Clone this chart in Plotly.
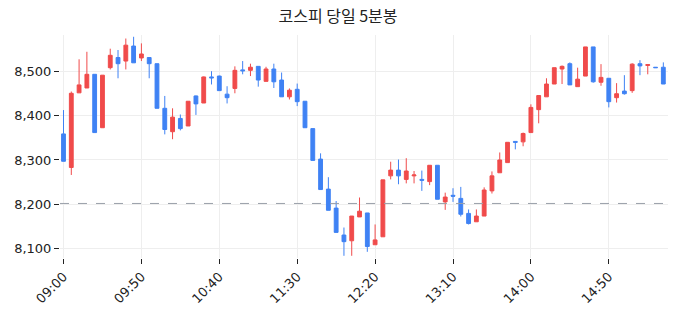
import plotly.graph_objects as go

times = [f"{9 + (i*5)//60:02d}:{(i*5)%60:02d}" for i in range(78)]

opens = [8359, 8283, 8452, 8463, 8494, 8373, 8509, 8532, 8524, 8558,
         8531, 8532, 8518, 8417, 8364, 8394, 8377, 8445, 8429, 8488,
         8490, 8449, 8462, 8504, 8503, 8512, 8478, 8506, 8481, 8443,
         8460, 8433, 8371, 8302, 8234, 8191, 8130, 8117, 8171, 8180,
         8108, 8126, 8264, 8277, 8256, 8264, 8256, 8251, 8288, 8205,
         8220, 8213, 8179, 8160, 8173, 8230, 8271, 8294, 8342, 8341,
         8362, 8414, 8443, 8472, 8506, 8518, 8466, 8490, 8556, 8476,
         8485, 8441, 8456, 8457, 8518, 8514, 8510, 8510]
highs = [8413, 8455, 8528, 8545, 8494, 8492, 8552, 8549, 8575, 8579,
         8564, 8532, 8518, 8445, 8417, 8403, 8433, 8446, 8489, 8501,
         8491, 8467, 8512, 8524, 8518, 8512, 8511, 8518, 8498, 8462,
         8473, 8433, 8371, 8315, 8261, 8207, 8147, 8173, 8215, 8180,
         8154, 8255, 8296, 8301, 8304, 8275, 8276, 8288, 8288, 8226,
         8236, 8239, 8188, 8188, 8238, 8274, 8317, 8340, 8342, 8362,
         8426, 8446, 8485, 8509, 8514, 8521, 8509, 8556, 8556, 8517,
         8485, 8474, 8492, 8519, 8526, 8516, 8510, 8521]
lows = [8297, 8266, 8452, 8463, 8362, 8373, 8505, 8485, 8505, 8520,
        8524, 8485, 8417, 8358, 8347, 8367, 8377, 8402, 8429, 8471,
        8457, 8428, 8451, 8494, 8490, 8466, 8478, 8463, 8443, 8437,
        8422, 8373, 8299, 8233, 8186, 8136, 8083, 8083, 8171, 8092,
        8108, 8126, 8256, 8245, 8247, 8247, 8230, 8243, 8211, 8187,
        8205, 8172, 8154, 8160, 8173, 8224, 8271, 8294, 8324, 8331,
        8362, 8383, 8443, 8472, 8472, 8470, 8466, 8490, 8475, 8468,
        8419, 8430, 8448, 8452, 8492, 8494, 8509, 8472]
closes = [8297, 8451, 8470, 8494, 8362, 8492, 8537, 8518, 8560, 8520,
          8540, 8518, 8417, 8369, 8397, 8371, 8433, 8427, 8488, 8486,
          8457, 8441, 8503, 8502, 8510, 8481, 8506, 8477, 8443, 8458,
          8432, 8373, 8299, 8233, 8186, 8136, 8115, 8173, 8184, 8104,
          8119, 8255, 8277, 8264, 8275, 8266, 8254, 8288, 8211, 8216,
          8218, 8177, 8156, 8173, 8232, 8264, 8300, 8340, 8340, 8360,
          8419, 8446, 8472, 8509, 8512, 8470, 8483, 8556, 8477, 8487,
          8432, 8450, 8450, 8517, 8513, 8516, 8509, 8472]

prev_close = 8201.5
tick_labels = ["09:00", "09:50", "10:40", "11:30", "12:20", "13:10", "14:00", "14:50"]

RED = "#F04B4B"
BLUE = "#3F82F4"

fig = go.Figure()
fig.add_trace(go.Candlestick(
    x=times, open=opens, high=highs, low=lows, close=closes,
    increasing=dict(line=dict(color=RED, width=1), fillcolor=RED),
    decreasing=dict(line=dict(color=BLUE, width=1), fillcolor=BLUE),
    whiskerwidth=0, showlegend=False,
))
fig.add_hline(y=prev_close, line=dict(color="#9aa0aa", width=1, dash="dash"))

fig.update_layout(
    width=676, height=316,
    margin=dict(l=60, r=8, t=35, b=58),
    paper_bgcolor="white", plot_bgcolor="white",
    font=dict(family="DejaVu Sans", size=13, color="#222"),
    title=dict(text="코스피 당일 5분봉", x=0.5, xanchor="center", y=0.965,
               font=dict(family="Noto Sans CJK KR", size=16, color="#222")),
    xaxis=dict(type="category", rangeslider=dict(visible=False),
               tickmode="array", tickvals=tick_labels, ticktext=tick_labels,
               tickangle=-45, ticks="outside", ticklen=5, tickcolor="#222",
               showgrid=True, gridcolor="#eeeeee", zeroline=False,
               range=[-0.45, 77.6], showline=False),
    yaxis=dict(tickformat=",", tickvals=[8100, 8200, 8300, 8400, 8500],
               ticks="outside", ticklen=5, tickcolor="#222",
               showgrid=True, gridcolor="#eeeeee", zeroline=False,
               range=[8078, 8583], showline=False),
)
fig.write_html("out.html")
